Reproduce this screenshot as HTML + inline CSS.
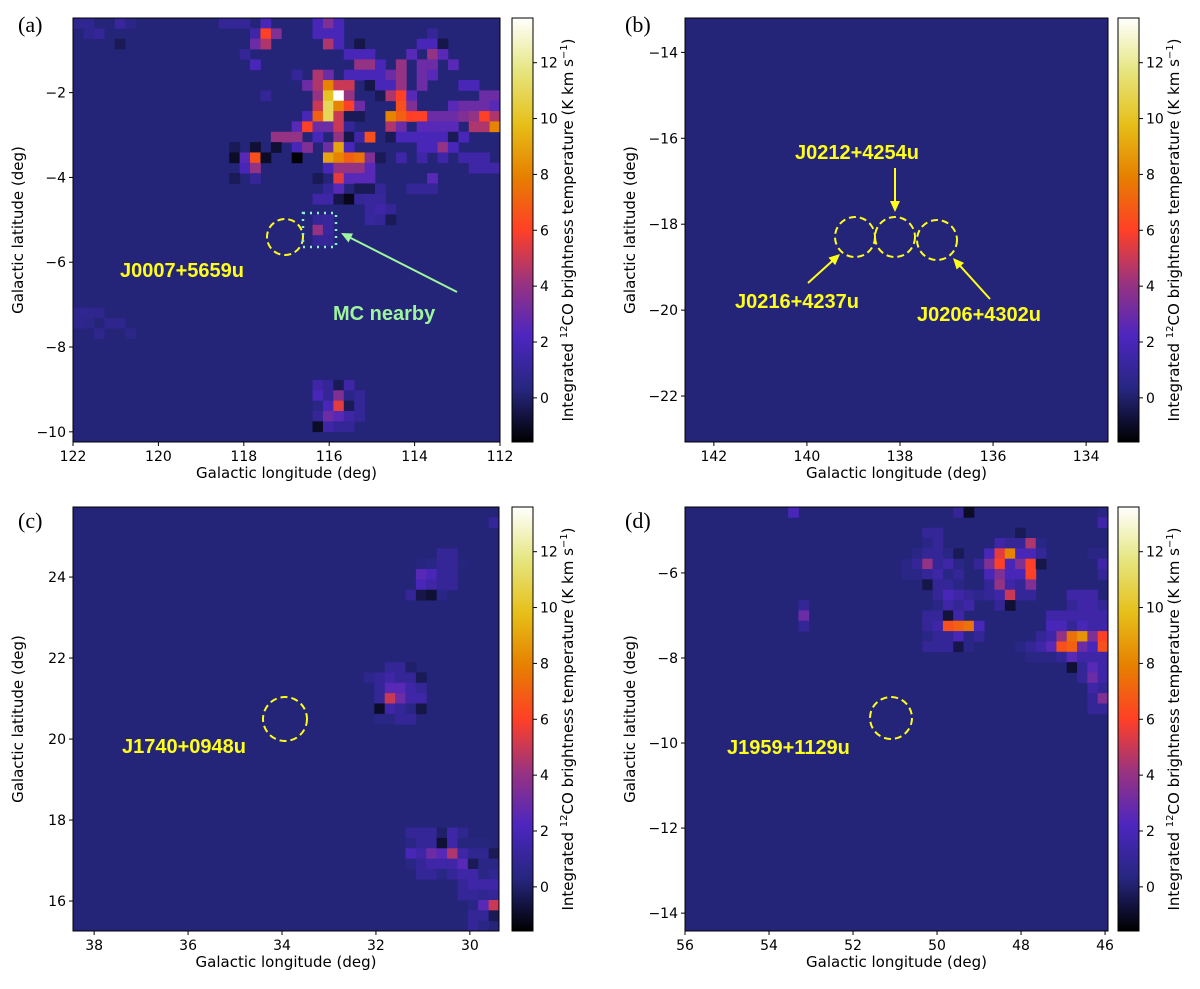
<!DOCTYPE html>
<html><head><meta charset="utf-8">
<style>
html,body{margin:0;padding:0;background:#fff;}
svg{display:block;font-family:"DejaVu Sans","Liberation Sans",sans-serif;}
.tick{font-size:14px;fill:#000;}
.axl{font-size:15px;fill:#000;}
.pl{font-family:"Liberation Serif",serif;font-size:22px;fill:#000;}
.src{font-family:"Liberation Sans",sans-serif;font-weight:bold;font-size:20px;fill:#ffff1a;}
</style></head>
<body>
<svg id="fig" width="1200" height="989" viewBox="0 0 1200 989" xmlns="http://www.w3.org/2000/svg">
<defs><linearGradient id="cbg" x1="0" y1="1" x2="0" y2="0"></linearGradient></defs>
</svg>
<script>
// ---- data ----
const cbMin = -1.58, cbMax = 13.6;
const cbTicks = [0,2,4,6,8,10,12];
const bgValue = 0.2;
const ticksAx = [122,120,118,116,114,112];
const ticksAy = [-2,-4,-6,-8,-10];
const ticksBx = [142,140,138,136,134];
const ticksBy = [-14,-16,-18,-20,-22];
const ticksCx = [38,36,34,32,30];
const ticksCy = [16,18,20,22,24];
const ticksDx = [56,54,52,50,48,46];
const ticksDy = [-6,-8,-10,-12,-14];
const cellsA = [
[14,0,1],[15,0,1],[16,0,1],[18,0,2],[23,0,2],[24,0,3.5],[25,0,2],[0,0,0.8],[1,0,0.8],[4,0,1.2],[5,0,0.6],
[17,1,1.5],[18,1,6],[19,1,3.5],[23,1,2],[24,1,2],[25,1,2],[34,1,1],[1,1,0.7],[2,1,1],
[17,2,3],[18,2,4.5],[24,2,4.5],[25,2,2],[27,2,-0.5],[33,2,2],[34,2,2],[35,2,-0.5],[4,2,-0.3],
[16,3,1],[26,3,2],[27,3,2],[28,3,2],[32,3,2.5],[34,3,4],[35,3,2.5],
[17,4,2],[27,4,4],[28,4,4],[29,4,2],[31,4,4],[33,4,3],[34,4,3],[36,4,2.5],
[21,5,1],[23,5,4.5],[24,5,3],[26,5,2],[27,5,2],[28,5,2],[29,5,2],[30,5,3],[31,5,4],[33,5,3],[34,5,2.5],
[22,6,3],[23,6,4.5],[24,6,8],[25,6,5],[26,6,5],[28,6,-0.5],[29,6,2],[30,6,2],[31,6,4],[33,6,3],[37,6,2],[38,6,2],
[18,7,1],[23,7,4],[24,7,10],[25,7,13.6],[26,7,4],[29,7,-0.3],[30,7,4.5],[31,7,6],[32,7,2.5],[39,7,3],[40,7,3],
[23,8,5],[24,8,11],[25,8,8],[26,8,6],[27,8,3],[31,8,6.5],[32,8,3.5],[36,8,2.5],[37,8,3],[38,8,3],[39,8,3],[40,8,2.5],
[22,9,2],[23,9,7],[24,9,11],[25,9,5],[26,9,-0.3],[27,9,-0.3],[30,9,8],[31,9,7],[32,9,6],[33,9,6],[34,9,3],[35,9,3],[36,9,3],[37,9,3.5],[38,9,4],[39,9,6],[40,9,4.5],
[21,10,2.5],[22,10,6],[23,10,3],[24,10,3],[25,10,5],[26,10,1],[30,10,4.5],[31,10,3],[33,10,2.5],[34,10,2.5],[35,10,2.5],[36,10,2.5],[38,10,4.5],[39,10,4.5],[40,10,8],
[19,11,4],[20,11,4],[21,11,4],[23,11,2],[25,11,4],[26,11,-0.5],[27,11,1.5],[28,11,6.5],[30,11,-0.3],[31,11,2],[32,11,2],[33,11,2],[34,11,2],[35,11,2],[36,11,-0.3],[37,11,2],
[15,12,-0.3],[17,12,-0.8],[19,12,-0.8],[21,12,2],[22,12,3.5],[24,12,3],[25,12,9],[26,12,2],[33,12,2],[34,12,2],[35,12,4],[36,12,2],
[15,13,-1],[16,13,2.5],[17,13,6.5],[18,13,-1],[21,13,-1.5],[24,13,9],[25,13,8],[26,13,7],[27,13,7.5],[28,13,3.5],[29,13,-0.3],[31,13,1.5],[33,13,1.5],[35,13,1.5],[37,13,1.5],[38,13,1.5],[39,13,1.5],
[16,14,2],[17,14,4],[24,14,2],[25,14,4],[26,14,4],[27,14,4],[28,14,2.5],[38,14,1.5],[39,14,1.5],[40,14,1.5],
[15,15,-0.3],[17,15,1],[23,15,-0.3],[25,15,5.5],[26,15,2.5],[27,15,2.5],[28,15,2.5],[34,15,2.5],
[24,16,1],[25,16,2.5],[27,16,-0.3],[28,16,-0.3],[29,16,1],[32,16,1],[33,16,1],[34,16,1],
[23,17,1.5],[24,17,1.5],[25,17,-0.5],[26,17,-1.2],[27,17,1],[28,17,1.2],[29,17,1.2],
[28,18,1.2],[29,18,1.5],[30,18,1],
[23,19,1],[24,19,1.2],[28,19,1.2],[29,19,1],[30,19,-0.3],
[23,20,4],[24,20,1.2],[23,21,1],[24,21,1],
[0,28,0.8],[1,28,0.8],[2,28,0.7],[0,29,0.8],[1,29,0.6],[3,29,0.7],[4,29,0.7],[2,30,0.7],[5,30,0.6],
[23,35,1.5],[24,35,1],[25,35,-0.3],[26,35,1.5],
[23,36,2],[24,36,1],[25,36,3.5],[26,36,0.5],[27,36,1],
[23,37,0.5],[24,37,2],[25,37,5.5],[26,37,-0.3],[27,37,1],
[23,38,1],[24,38,3],[25,38,2.5],[26,38,1.5],[27,38,1],
[23,39,-1],[24,39,1.5],[25,39,1],[26,39,1]
];
const cellsB = [];
const cellsC = [
[40,1,1],
[35,4,1],[36,4,1],
[33,5,0.3],[34,5,0.5],[35,5,1],[36,5,1],[37,5,0.3],
[33,6,2.5],[34,6,2],[35,6,1],[36,6,1],
[33,7,2],[34,7,1.5],[35,7,1],[36,7,1],
[32,8,1],[33,8,-0.5],[34,8,-0.8],[35,8,0.5],
[30,15,1],[31,15,1],[32,15,0],
[28,16,0.7],[29,16,1],[30,16,1.5],[31,16,1],[32,16,1],[33,16,-0.3],
[29,17,1],[30,17,2.5],[31,17,2.5],[32,17,1.5],[33,17,1],
[29,18,1],[30,18,5],[31,18,3],[32,18,1.5],[33,18,1.5],
[29,19,-1],[30,19,1.5],[31,19,1],[32,19,0.5],[33,19,-0.5],
[29,20,0.5],[30,20,0.5],[31,20,1],[32,20,1],
[32,31,1],[33,31,1],[34,31,1],[35,31,0],[36,31,1.5],[37,31,0.8],
[32,32,0.5],[33,32,1],[34,32,1],[35,32,-0.8],[36,32,1.5],[37,32,0.3],[38,32,0.3],[39,32,0.3],
[32,33,2],[33,33,1.5],[34,33,3],[35,33,2.5],[36,33,4.5],[37,33,1.5],[38,33,0.8],[39,33,0.8],[40,33,-0.3],
[32,34,0.5],[33,34,1],[34,34,1.5],[35,34,1.5],[36,34,1.5],[37,34,2.5],[38,34,-0.3],[39,34,0.5],[40,34,0.5],
[33,35,1],[34,35,1],[35,35,0.5],[36,35,1],[37,35,1.5],[38,35,1.5],[39,35,0.5],[40,35,0.8],
[37,36,1],[38,36,1.5],[39,36,1.5],[40,36,1.5],
[37,37,1],[38,37,1],[39,37,0.8],[40,37,1],
[38,38,0.5],[39,38,2.5],[40,38,5],
[38,39,1],[39,39,1],[40,39,-0.3],
[38,40,1],[39,40,0.5]
];
const cellsD = [
[10,0,2],[26,0,1],[27,0,-1],[40,0,0.5],
[40,1,1.5],
[23,2,1],[24,2,1],[32,2,-0.3],
[23,3,0.5],[24,3,1],[30,3,1.5],[31,3,1],[32,3,1],[33,3,4.5],[34,3,0.5],
[22,4,0.5],[23,4,1],[24,4,1],[25,4,0.5],[26,4,-0.3],[29,4,2],[30,4,5.5],[31,4,8],[32,4,2],[33,4,2],[34,4,1],[39,4,0.5],[40,4,0.5],
[21,5,0.5],[22,5,1],[23,5,4],[24,5,1],[25,5,1.5],[26,5,0.5],[28,5,1],[29,5,3.5],[30,5,6],[31,5,2],[32,5,3.5],[33,5,6],[34,5,-0.5],[40,5,1.5],
[21,6,0.5],[22,6,0.5],[23,6,1],[24,6,1.5],[25,6,0.5],[26,6,1],[29,6,2],[30,6,3.5],[31,6,2],[32,6,2],[33,6,6],[40,6,1],
[23,7,-0.5],[24,7,1],[25,7,1],[26,7,0.5],[29,7,1],[30,7,4],[31,7,1.5],[32,7,1],[33,7,3.5],
[24,8,1],[25,8,2],[26,8,1.5],[27,8,1],[28,8,0.7],[29,8,1],[30,8,1.5],[31,8,5],[32,8,1],[33,8,1],[37,8,1.5],[38,8,1.5],[39,8,1.5],
[11,9,1],[24,9,0.5],[25,9,1.5],[26,9,1],[27,9,1.5],[30,9,1],[31,9,-0.8],[37,9,1],[38,9,1.5],[39,9,1.5],[40,9,1],
[11,10,3],[23,10,1],[24,10,1],[25,10,-0.7],[26,10,1.5],[35,10,1.5],[36,10,1.5],[37,10,1.5],[38,10,1.5],[39,10,1.5],[40,10,1.5],
[11,11,1],[23,11,1],[24,11,1.5],[25,11,6.5],[26,11,7],[27,11,7.5],[28,11,2],[35,11,2],[36,11,2],[37,11,1],[38,11,2],[39,11,1.5],[40,11,1.5],
[23,12,0.5],[24,12,1],[25,12,1],[26,12,2],[27,12,0.5],[28,12,1],[34,12,1],[35,12,1.5],[36,12,4],[37,12,7.5],[38,12,8.5],[39,12,3.5],[40,12,6],
[23,13,1],[24,13,1],[25,13,1],[26,13,-0.5],[27,13,0.5],[32,13,0.5],[33,13,1],[34,13,1.5],[35,13,2.5],[36,13,6.5],[37,13,7],[38,13,3],[39,13,2],[40,13,6.5],
[33,14,0.5],[34,14,0.5],[35,14,0.5],[36,14,1],[37,14,2.5],[38,14,1.5],[39,14,1.5],[40,14,1.5],
[37,15,-0.8],[38,15,1],[39,15,2.5],[40,15,1.5],
[38,16,1],[39,16,3],[40,16,1.5],
[39,17,1.5],[40,17,1],
[39,18,1],[40,18,3.5],
[39,19,1],[40,19,1]
];

// ---- colormap (CMRmap) ----
const CM=[[0,0,0,0],[0.125,.15,.15,.5],[0.25,.3,.15,.75],[0.375,.6,.2,.5],[0.5,1,.25,.15],[0.625,.9,.5,0],[0.75,.9,.75,.1],[0.875,.9,.9,.5],[1,1,1,1]];
function cmap(v){
  let t=(v-cbMin)/(cbMax-cbMin); t=Math.max(0,Math.min(1,t));
  for(let i=1;i<CM.length;i++){ if(t<=CM[i][0]){ const a=CM[i-1],b=CM[i],f=(t-a[0])/(b[0]-a[0]);
    const c=[1,2,3].map(k=>Math.round(255*(a[k]+(b[k]-a[k])*f))); return `rgb(${c[0]},${c[1]},${c[2]})`; } }
  return '#fff';
}
const NS='http://www.w3.org/2000/svg';
const svg=document.getElementById('fig');
function el(tag,attrs,parent,text){const e=document.createElementNS(NS,tag);for(const k in attrs)e.setAttribute(k,attrs[k]);if(text!==undefined)e.textContent=text;(parent||svg).appendChild(e);return e;}

// gradient
const grad=document.getElementById('cbg');
for(let i=0;i<=40;i++){const v=cbMin+(cbMax-cbMin)*i/40;el('stop',{offset:(i/40),'stop-color':cmap(v)},grad);}

const panels=[
 {id:'a',L:73,T:18,W:427,H:424,lon:[122.0,112.0],lat:[-0.24,-10.24],tx:ticksAx,ty:ticksAy,cells:cellsA,cbx:512,lab:[18,32]},
 {id:'b',L:685,T:18,W:423,H:424,lon:[142.62,133.53],lat:[-13.2,-23.07],tx:ticksBx,ty:ticksBy,cells:cellsB,cbx:1118,lab:[625,32]},
 {id:'c',L:73,T:507,W:426,H:424,lon:[38.45,29.38],lat:[25.73,15.26],tx:ticksCx,ty:ticksCy,cells:cellsC,cbx:512,lab:[18,528]},
 {id:'d',L:685,T:507,W:423,H:424,lon:[56.0,45.93],lat:[-4.45,-14.42],tx:ticksDx,ty:ticksDy,cells:cellsD,cbx:1118,lab:[625,528]}
];
const NX=41,NY=41;
panels.forEach(p=>{
  const g=el('g',{});
  
  
  const xs=v=>p.L+(v-p.lon[0])/(p.lon[1]-p.lon[0])*p.W;
  const ys=v=>p.T+(v-p.lat[0])/(p.lat[1]-p.lat[0])*p.H;
  const cx=c=>p.L+c*p.W/NX, cy=r=>p.T+r*p.H/NY;
  const bg=el('rect',{x:p.L,y:p.T,width:p.W,height:p.H,fill:cmap(bgValue)},g);
  
  
  p.cells.forEach(c=>{
    const r=el('rect',{x:cx(c[0]).toFixed(2),y:cy(c[1]).toFixed(2),width:(p.W/NX+0.4).toFixed(2),height:(p.H/NY+0.4).toFixed(2),fill:cmap(c[2])},g);
    
    
  });
  el('rect',{x:p.L,y:p.T,width:p.W,height:p.H,fill:'none',stroke:'#000','stroke-width':1},g);
  p.tx.forEach(t=>{const x=xs(t);el('line',{x1:x,y1:p.T+p.H,x2:x,y2:p.T+p.H+4,stroke:'#000'},g);
    const tl=el('text',{x:x,y:p.T+p.H+19,'text-anchor':'middle',class:'tick'},g,String(t).replace('-','\u2212'));
    });
  p.ty.forEach(t=>{const y=ys(t);el('line',{x1:p.L-4,y1:y,x2:p.L,y2:y,stroke:'#000'},g);
    const tl=el('text',{x:p.L-7,y:y+5,'text-anchor':'end',class:'tick'},g,String(t).replace('-','\u2212'));
    });
  const xl=el('text',{x:p.L+p.W/2,y:p.T+p.H+36,'text-anchor':'middle',class:'axl'},g,'Galactic longitude (deg)');
  
  const yx=p.L-50, yy=p.T+p.H/2;
  const yl=el('text',{x:yx,y:yy,'text-anchor':'middle',class:'axl',transform:`rotate(-90 ${yx} ${yy})`},g,'Galactic latitude (deg)');
  
  // colorbar
  const cb=el('rect',{x:p.cbx,y:p.T,width:21,height:p.H,fill:'url(#cbg)',stroke:'#000','stroke-width':1},g);
  
  const cs=v=>p.T+p.H-(v-cbMin)/(cbMax-cbMin)*p.H;
  cbTicks.forEach(t=>{const y=cs(t);el('line',{x1:p.cbx+21,y1:y,x2:p.cbx+25,y2:y,stroke:'#000'},g);
    const tl=el('text',{x:p.cbx+28,y:y+5,class:'tick'},g,String(t));
    });
  const lx=p.cbx+61, ly=p.T+p.H/2;
  const cl=el('text',{x:lx,y:ly,'text-anchor':'middle',class:'axl',transform:`rotate(-90 ${lx} ${ly})`},g);
  
  el('tspan',{},cl,'Integrated ');
  el('tspan',{dy:-6,'font-size':10},cl,'12');
  el('tspan',{dy:6},cl,'CO brightness temperature (K km s');
  el('tspan',{dy:-6,'font-size':10},cl,'\u22121');
  el('tspan',{dy:6},cl,')');
  const pl=el('text',{x:p.lab[0],y:p.lab[1],class:'pl'},g,'('+p.id+')');
  
});

// annotations
function circ(x,y,r,name){const c=el('circle',{cx:x,cy:y,r:r,fill:'none',stroke:'#ffff1a','stroke-width':2,'stroke-dasharray':'7 4'});
  }
function lbl(x,y,t,name,fill){const e=el('text',{x:x,y:y,class:'src'},svg,t);if(fill)e.setAttribute('fill',fill),e.style.fill=fill;
  }
function arrow(x1,y1,x2,y2,col,name){const g=el('g',{});
  const a=Math.atan2(y2-y1,x2-x1),L=11,w=5;
  el('line',{x1:x1,y1:y1,x2:x2-Math.cos(a)*6,y2:y2-Math.sin(a)*6,stroke:col,'stroke-width':2},g);
  const bx=x2-Math.cos(a)*L,by=y2-Math.sin(a)*L;
  el('polygon',{points:`${x2},${y2} ${bx-Math.sin(a)*w},${by+Math.cos(a)*w} ${bx+Math.sin(a)*w},${by-Math.cos(a)*w}`,fill:col},g);}

circ(285,237,18,'source-circle-j0007');
const sq=el('rect',{x:303,y:213,width:33,height:34,fill:'none',stroke:'#8ff0d0','stroke-width':2.5,'stroke-dasharray':'2 5'});

lbl(120,277,'J0007+5659u','label-j0007');
lbl(333,320,'MC nearby','label-mc-nearby','#9ef59e');
arrow(457,292,341,233,'#9ef59e','arrow-mc');

circ(855,237,20,'source-circle-j0216');
circ(895,237,20,'source-circle-j0212');
circ(937,240,20,'source-circle-j0206');
lbl(795,159,'J0212+4254u','label-j0212');
lbl(735,308,'J0216+4237u','label-j0216');
lbl(917,321,'J0206+4302u','label-j0206');
arrow(895,168,895,212,'#ffff1a','arrow-j0212');
arrow(808,283,840,254,'#ffff1a','arrow-j0216');
arrow(990,299,953,258,'#ffff1a','arrow-j0206');

circ(285,719,22,'source-circle-j1740');
lbl(122,753,'J1740+0948u','label-j1740');
circ(891,718,21,'source-circle-j1959');
lbl(727,754,'J1959+1129u','label-j1959');
</script>
</body></html>
